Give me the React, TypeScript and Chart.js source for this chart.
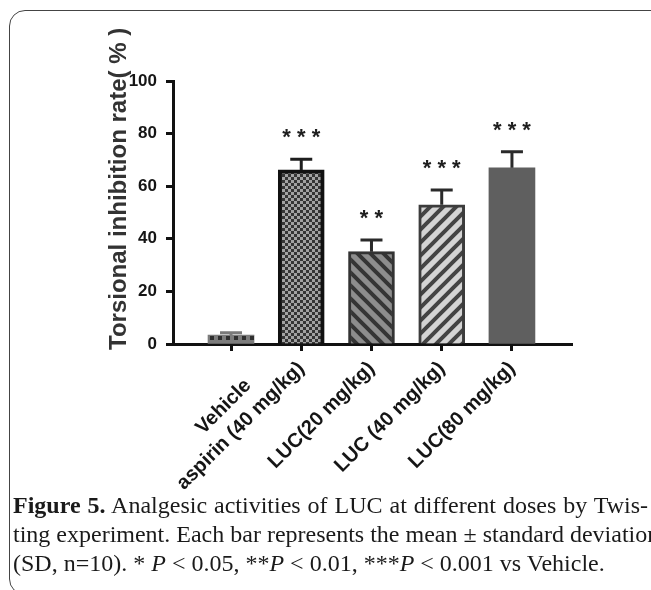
import React, { useEffect, useRef } from 'react';
import { Chart, registerables } from 'chart.js';

Chart.register(...registerables);

// ---------- data ----------
const categories = ['Vehicle', 'aspirin (40 mg/kg)', 'LUC(20 mg/kg)', 'LUC (40 mg/kg)', 'LUC(80 mg/kg)'];
const means = [3.4, 66.2, 35.1, 52.9, 67.0];
const sds = [0.9, 4.0, 4.4, 5.7, 6.1];
const significance = ['', '***', '**', '***', '***'];
const yTicks = [0, 20, 40, 60, 80, 100];
const yTitle = 'Torsional inhibition rate( % )';
const captionBold = 'Figure 5.';
const captionLine1 = ' Analgesic activities of LUC at different doses by Twis-';
const captionLine2 = 'ting experiment. Each bar represents the mean \u00b1 standard deviation';

const SANS = '"Liberation Sans", Arial, sans-serif';

// ---------- fill patterns ----------
function tile(size: number, draw: (g: CanvasRenderingContext2D, s: number) => void) {
  const c = document.createElement('canvas');
  c.width = size;
  c.height = size;
  const g = c.getContext('2d')!;
  draw(g, size);
  return c;
}

function makePattern(ctx: CanvasRenderingContext2D, c: HTMLCanvasElement) {
  return ctx.createPattern(c, 'repeat')!;
}

function dots(ctx: CanvasRenderingContext2D) {
  return makePattern(ctx, tile(8, (g, s) => {
    g.fillStyle = '#7c7c7c';
    g.fillRect(0, 0, s, s);
    g.fillStyle = '#2f2f2f';
    g.fillRect(2, 0, 4, 4);
  }));
}

function checker(ctx: CanvasRenderingContext2D) {
  return makePattern(ctx, tile(6, (g) => {
    g.fillStyle = '#a2a2a2';
    g.fillRect(0, 0, 6, 6);
    g.fillStyle = '#353535';
    g.fillRect(0, 0, 3, 3);
    g.fillRect(3, 3, 3, 3);
  }));
}

function stripes(ctx: CanvasRenderingContext2D, bg: string, fg: string, dir: 'back' | 'fwd') {
  return makePattern(ctx, tile(13, (g, s) => {
    g.fillStyle = bg;
    g.fillRect(0, 0, s, s);
    g.strokeStyle = fg;
    g.lineWidth = 4;
    g.beginPath();
    if (dir === 'fwd') {
      for (const c of [0, s, 2 * s]) {
        g.moveTo(c + 2, -2);
        g.lineTo(c - s - 2, s + 2);
      }
    } else {
      for (const c of [-s, 0, s]) {
        g.moveTo(c - 2, -2);
        g.lineTo(c + s + 2, s + 2);
      }
    }
    g.stroke();
  }));
}

// ---------- error bars + significance + y title ----------
const errColors = ['#7a7a7a', '#1e1e1e', '#2a2a2a', '#2a2a2a', '#2a2a2a'];

const errorPlugin = {
  id: 'errorBars',
  afterDatasetsDraw(chart: any) {
    const { ctx } = chart;
    const meta = chart.getDatasetMeta(0);
    const y = chart.scales.y;
    meta.data.forEach((bar: any, i: number) => {
      const top = y.getPixelForValue(means[i]);
      const cap = y.getPixelForValue(means[i] + sds[i]);
      ctx.save();
      ctx.strokeStyle = errColors[i];
      ctx.lineWidth = 3;
      ctx.beginPath();
      ctx.moveTo(bar.x, top);
      ctx.lineTo(bar.x, cap);
      ctx.moveTo(bar.x - 11, cap);
      ctx.lineTo(bar.x + 11, cap);
      ctx.stroke();
      if (significance[i]) {
        ctx.fillStyle = '#1e1e1e';
        ctx.font = `bold 22px ${SANS}`;
        ctx.textAlign = 'center';
        ctx.textBaseline = 'alphabetic';
        ctx.fillText(significance[i].split('').join(' '), bar.x, cap - 15);
      }
      ctx.restore();
    });
  },
};

const yTitlePlugin = {
  id: 'yTitle',
  afterDraw(chart: any) {
    const { ctx } = chart;
    const y = chart.scales.y;
    ctx.save();
    ctx.translate(119, y.bottom + 6);
    ctx.rotate(-Math.PI / 2);
    ctx.font = `bold 24px ${SANS}`;
    ctx.fillStyle = '#333';
    ctx.textAlign = 'left';
    ctx.textBaseline = 'middle';
    ctx.fillText(yTitle, 0, 0);
    ctx.restore();
  },
};

export default function App() {
  const ref = useRef<HTMLCanvasElement>(null);

  useEffect(() => {
    const canvas = ref.current!;
    const ctx = canvas.getContext('2d')!;
    const fills = [
      dots(ctx),
      checker(ctx),
      stripes(ctx, '#8d8d8d', '#353535', 'back'),
      stripes(ctx, '#d4d4d4', '#444444', 'fwd'),
      '#5f5f5f',
    ];
    const chart = new Chart(canvas, {
      type: 'bar',
      data: {
        datasets: [
          {
            data: means.map((m, i) => ({ x: i, y: m })) as any,
            backgroundColor: fills as any,
            borderColor: ['#6f6f6f', '#111111', '#333333', '#3c3c3c', '#5f5f5f'],
            borderWidth: [0, 4, 3, 3, 0],
            barThickness: 46,
          },
        ],
      },
      options: {
        responsive: false,
        animation: false,
        layout: { padding: { left: 0, top: 81, right: 79, bottom: 0 } },
        plugins: { legend: { display: false }, tooltip: { enabled: false } },
        scales: {
          x: {
            type: 'linear',
            min: -0.826,
            max: 4.855,
            offset: false,
            afterBuildTicks: (s: any) => {
              s.ticks = categories.map((_, i) => ({ value: i }));
            },
            afterFit: (s: any) => {
              s.height = 156;
            },
            grid: {
              drawOnChartArea: false,
              drawTicks: true,
              tickLength: 7,
              tickWidth: 3,
              tickColor: '#111',
              offset: false,
            },
            border: { display: true, width: 3, color: '#111' },
            ticks: {
              autoSkip: false,
              maxRotation: 45,
              minRotation: 45,
              padding: 6,
              color: '#151515',
              font: { family: SANS, size: 20, weight: 'bold' },
              callback: (v: any) => {
                const i = Math.round(Number(v));
                const l = categories[i];
                return i === 0 ? ['', l] : l;
              },
            },
          },
          y: {
            min: 0,
            max: 100,
            afterBuildTicks: (s: any) => {
              s.ticks = yTicks.map((v) => ({ value: v }));
            },
            afterFit: (s: any) => {
              s.width = 173;
            },
            grid: {
              drawOnChartArea: false,
              drawTicks: true,
              tickLength: 7,
              tickWidth: 3,
              tickColor: '#111',
            },
            border: { display: true, width: 3, color: '#111' },
            ticks: {
              padding: 9,
              color: '#151515',
              font: { family: SANS, size: 17, weight: 'bold' },
            },
            title: { display: false },
          },
        },
      } as any,
      plugins: [errorPlugin, yTitlePlugin],
    });
    return () => chart.destroy();
  }, []);

  return (
    <div
      style={{
        position: 'absolute',
        left: 0,
        top: 0,
        width: 651,
        height: 590,
        overflow: 'hidden',
        background: '#fff',
      }}
    >
      <div
        style={{
          position: 'absolute',
          left: 9,
          top: 10,
          width: 700,
          height: 585,
          border: '1px solid #444',
          borderRadius: 16,
          boxSizing: 'border-box',
        }}
      />
      <canvas
        ref={ref}
        width={651}
        height={500}
        style={{ position: 'absolute', left: 0, top: 0, width: 651, height: 500 }}
      />
      <div
        style={{
          position: 'absolute',
          left: 13,
          top: 491,
          fontFamily: '"Liberation Serif", "Times New Roman", serif',
          fontSize: 24,
          lineHeight: '29px',
          color: '#1a1a1a',
          whiteSpace: 'nowrap',
        }}
      >
        <div style={{ width: 635, textAlign: 'justify', textAlignLast: 'justify' }}>
          <b>{captionBold}</b>
          {captionLine1}
        </div>
        <div>{captionLine2}</div>
        <div>
          (SD, n=10). * <i>P</i> &lt; 0.05, **<i>P</i> &lt; 0.01, ***<i>P</i> &lt; 0.001 vs Vehicle.
        </div>
      </div>
    </div>
  );
}
